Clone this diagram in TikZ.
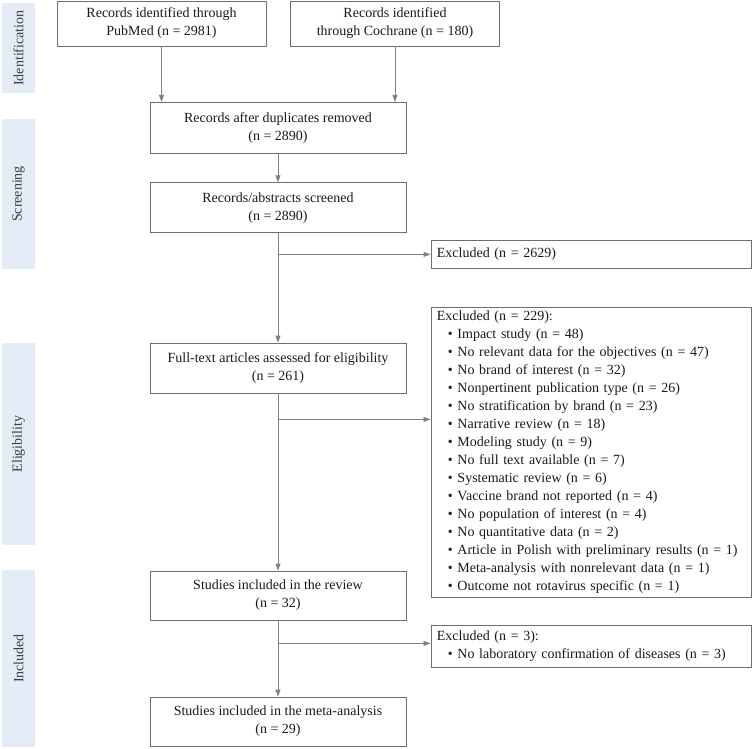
\documentclass[tikz,border=0pt]{standalone}
\usepackage{fontspec}
\setmainfont{Liberation Serif}
\usetikzlibrary{arrows.meta}

\newcommand{\boxfont}{\fontsize{14}{18}\selectfont}
\newcommand{\bul}{\hspace*{11pt}\textbullet\ }

\begin{document}
\begin{tikzpicture}[x=1pt,y=-1pt,
  box/.style={draw=boxgray,line width=.8pt,minimum width=256,
    minimum height=50,inner sep=0pt,align=center,font=\boxfont,text=ink},
  exbox/.style={draw=boxgray,line width=.8pt,anchor=north west,
    inner xsep=6pt,inner ysep=0pt,text width=308,align=left,
    font=\boxfont,text=ink},
  arr/.style={draw=linegray,line width=.8pt,
    -{Triangle[length=7pt,width=5pt]}},
  phase/.style={rotate=90,font=\boxfont,text=phasetext}]
 \definecolor{boxgray}{RGB}{110,110,110}
 \definecolor{linegray}{RGB}{128,128,128}
 \definecolor{ink}{RGB}{25,25,25}
 \definecolor{phasetext}{RGB}{60,60,60}
 \definecolor{bandblue}{RGB}{227,236,247}
 \useasboundingbox (0,0) rectangle (752,749);
 % phase bands on the left
 \foreach \lab/\ya/\yb in {
   Identification/3/93, Screening/119/269,
   Eligibility/343/545, Included/570/747
 } {
   \fill[bandblue] (2,\ya) rectangle (35,\yb);
   \node[phase] (ph-\lab) at (18.5,{(\ya+\yb)/2}) {\lab};
 }
 % main column
 \node[box,minimum width=209,minimum height=45] (pubmed) at (161.5,23.5)
   {Records identified through\\PubMed (n = 2981)};
 \node[box,minimum width=209,minimum height=45] (cochrane) at (395,23.5)
   {Records identified\\through Cochrane (n = 180)};
 \node[box,minimum height=51] (dedup) at (278,127.8)
   {Records after duplicates removed\\(n = 2890)};
 \node[box] (screened) at (278,207.7)
   {Records/abstracts screened\\(n = 2890)};
 \node[box] (fulltext) at (278,368)
   {Full-text articles assessed for eligibility\\(n = 261)};
 \node[box,minimum height=49] (review) at (278,595.5)
   {Studies included in the review\\(n = 32)};
 \node[box,minimum height=49] (meta) at (278,721.5)
   {Studies included in the meta-analysis\\(n = 29)};
 % exclusions
 \node[exbox,minimum height=28] (exclA) at (430.5,240)
   {Excluded (n = 2629)};
 \node[exbox,minimum height=290] (exclB) at (430.5,307)
   {Excluded (n = 229):\\
    \bul Impact study (n = 48)\\
    \bul No relevant data for the objectives (n = 47)\\
    \bul No brand of interest (n = 32)\\
    \bul Nonpertinent publication type (n = 26)\\
    \bul No stratification by brand (n = 23)\\
    \bul Narrative review (n = 18)\\
    \bul Modeling study (n = 9)\\
    \bul No full text available (n = 7)\\
    \bul Systematic review (n = 6)\\
    \bul Vaccine brand not reported (n = 4)\\
    \bul No population of interest (n = 4)\\
    \bul No quantitative data (n = 2)\\
    \bul Article in Polish with preliminary results (n = 1)\\
    \bul Meta-analysis with nonrelevant data (n = 1)\\
    \bul Outcome not rotavirus specific (n = 1)};
 \node[exbox,minimum height=42] (exclC) at (430.5,625)
   {Excluded (n = 3):\\
    \bul No laboratory confirmation of diseases (n = 3)};
 % connectors
 \draw[arr] (pubmed.south) -- (pubmed.south |- dedup.north);
 \draw[arr] (cochrane.south) -- (cochrane.south |- dedup.north);
 \draw[arr] (dedup) -- (screened);
 \draw[arr] (screened) -- (fulltext);
 \draw[arr] (fulltext) -- (review);
 \draw[arr] (review) -- (meta);
 \coordinate (brA) at (screened.south |- exclA.west);
 \path (fulltext.south) ++(0,26) coordinate (brB);
 \path (review.south) ++(0,23) coordinate (brC);
 \draw[arr] (brA) -- (exclA.west);
 \draw[arr] (brB) -- (brB -| exclB.west);
 \draw[arr] (brC) -- (brC -| exclC.west);
\end{tikzpicture}
\end{document}
